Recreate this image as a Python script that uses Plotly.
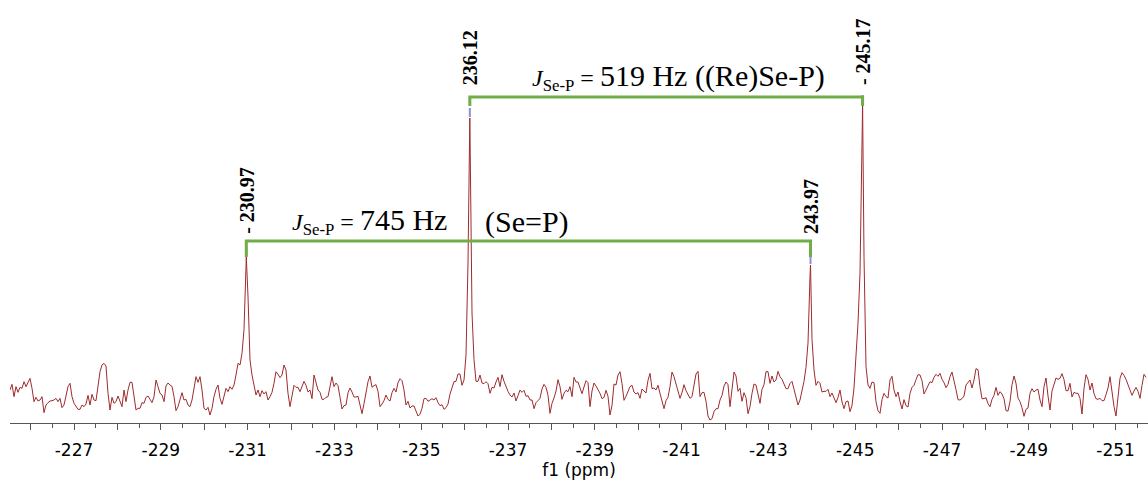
import numpy as np
import plotly.graph_objects as go

# 77Se{1H} spectrum, f1 axis in ppm (uniform digital grid), intensity in arbitrary units
ppm_start = -225.525
ppm_step = 0.046083

# intensities, left to right, in four stretches
intens_a = [99, 116, 79, 109, 92, 107, 104, 124, 109, 122,
            134, 104, 64, 77, 66, 69, 79, 31, 54, 61,
            66, 67, 69, 74, 64, 74, 46, 54, 81, 109,
            119, 79, 59, 51, 41, 41, 54, 49, 57, 83,
            54, 86, 69, 67, 111, 154, 174, 179, 171, 89,
            39, 77, 59, 64, 81, 64, 49, 99, 64, 99,
            122, 122, 84, 39, 44, 44, 61, 59, 77, 81,
            71, 61, 79, 129, 109, 89, 84, 64, 111, 120,
            114, 110, 79, 37, 49, 73, 91, 69, 71, 54,
            49, 69, 109, 139, 122, 139, 99, 44, 39, 47,
            24, 44, 79, 101, 114, 74, 56, 81, 104, 94,
            109, 101, 114, 144, 179, 174, 209, 280, 470, 380,
            189, 144, 114, 84, 99, 79, 97, 87, 94, 69,
            79, 92, 119, 154, 146, 136, 144, 174, 159, 89]
intens_b = [49, 77, 113, 107, 107, 94, 109, 125, 113, 93,
            99, 73, 144, 119, 99, 92, 71, 71, 77, 79,
            109, 139, 109, 120, 112, 74, 42, 52, 54, 91,
            105, 93, 78, 78, 80, 54, 28, 58, 94, 124,
            141, 107, 112, 115, 95, 49, 57, 67, 84, 71,
            66, 91, 104, 93, 121, 133, 127, 99, 54, 65,
            45, 51, 51, 35, 21, 26, 44, 73, 74, 65,
            70, 73, 69, 76, 61, 52, 55, 41, 46, 57,
            87, 107, 124, 125, 147, 147, 113, 129, 204, 480,
            870, 330, 190, 125, 125, 144, 120, 118, 124, 118,
            89, 107, 105, 123, 137, 109, 145, 125, 107, 95,
            84, 78, 90, 66, 82, 99, 92, 98, 80, 82,
            69, 69, 43, 61, 67, 74, 102, 116, 107, 83,
            29, 59, 75, 96, 130, 109, 71, 89, 98, 94]
intens_c = [109, 79, 137, 123, 123, 103, 88, 108, 127, 121,
            49, 96, 120, 111, 101, 89, 73, 77, 98, 80,
            24, 53, 117, 114, 144, 154, 118, 68, 80, 98,
            109, 113, 93, 87, 91, 74, 102, 96, 90, 128,
            149, 103, 105, 99, 113, 89, 69, 43, 67, 77,
            109, 153, 139, 115, 97, 74, 91, 115, 97, 85,
            74, 79, 111, 147, 155, 79, 91, 92, 65, 21,
            9, 13, 34, 43, 43, 69, 83, 111, 123, 115,
            49, 99, 153, 141, 95, 104, 65, 91, 76, 28,
            49, 89, 117, 114, 88, 59, 101, 115, 154, 154,
            119, 141, 123, 129, 155, 139, 131, 115, 103, 103,
            119, 125, 99, 78, 54, 69, 93, 125, 167, 240,
            440, 250, 159, 113, 125, 119, 93, 95, 95, 101,
            79, 90, 76, 61, 77, 99, 63, 43, 64, 66,
            34, 53, 105, 189, 300]
intens_d = [450, 900, 500, 169, 114, 104, 123, 121, 64, 37,
            29, 70, 89, 79, 75, 129, 140, 99, 79, 93,
            64, 42, 70, 52, 48, 89, 107, 113, 130, 145,
            144, 127, 87, 99, 115, 124, 121, 137, 146, 140,
            149, 131, 121, 106, 116, 139, 153, 121, 100, 70,
            69, 73, 81, 114, 120, 129, 105, 129, 163, 160,
            109, 73, 73, 76, 58, 49, 71, 83, 107, 83,
            94, 87, 73, 37, 36, 64, 115, 141, 119, 75,
            64, 46, 20, 41, 45, 89, 103, 93, 99, 101,
            69, 49, 109, 135, 81, 39, 96, 113, 135, 131,
            134, 148, 130, 97, 97, 119, 78, 92, 89, 89,
            74, 27, 104, 145, 131, 99, 120, 88, 73, 71,
            74, 67, 67, 85, 105, 139, 89, 49, 21, 69,
            134, 151, 143, 131, 115, 104, 83, 96, 107, 95,
            74, 113, 146, 137]

# picked peaks
peak_ppm = [-230.97, -236.12, -243.97, -245.17]
peak_height = [498, 915, 474, 954]
peak_label = ['- 230.97', '236.12', '243.97', '- 245.17']

# couplings: (left peak, right peak)
coupling_745 = (-230.97, -243.97)
coupling_519 = (-236.12, -245.17)

label_ticks = list(range(-227, -252, -2))     # labelled, every 2 ppm
label_text = [str(v) for v in label_ticks]   # plain hyphen, as in the original
plain_ticks = list(range(-226, -252, -2))     # unlabelled whole-ppm ticks

intens = np.array(intens_a + intens_b + intens_c + intens_d, dtype=float)
ppm = ppm_start - ppm_step * np.arange(len(intens))
all_ppm = np.concatenate([ppm, peak_ppm])
all_int = np.concatenate([intens, peak_height])
order = np.argsort(-all_ppm)

fig = go.Figure()
fig.add_trace(go.Scatter(x=all_ppm[order], y=all_int[order], mode='lines',
                         line=dict(color='#9e2b2e', width=1), hoverinfo='skip'))

# blue peak-pick marks on top of each peak
for p, h in zip(peak_ppm, peak_height):
    fig.add_shape(type='line', x0=p, x1=p, y0=h + 3, y1=h + 30,
                  line=dict(color='#8f8fd6', width=2))

green = '#70ad47'
def bracket(pair, level, leg):
    a, b = pair
    fig.add_shape(type='path', path=f'M {a},{leg} L {a},{level} L {b},{level} L {b},{leg}',
                  line=dict(color=green, width=3))

bracket(coupling_745, 546, 498)
bracket(coupling_519, 978, 951)

# peak labels, vertical
label_level = [561, 1008, 561, 1008]
for p, lab, lv in zip(peak_ppm, peak_label, label_level):
    fig.add_annotation(x=p, y=lv, text=f'<b>{lab}</b>', textangle=-90, showarrow=False,
                       xanchor='center', yanchor='bottom',
                       font=dict(family='Liberation Serif', size=20, color='black'))

jlabel = '<span style="font-size:24px"><i>J</i><sub>Se-P</sub> = </span>'
serif = dict(family='Liberation Serif', size=30, color='black')
fig.add_annotation(x=coupling_519[0], y=978, xshift=60, text=jlabel + '519 Hz ((Re)Se-P)',
                   showarrow=False, xanchor='left', yanchor='bottom', font=serif)
fig.add_annotation(x=coupling_745[0], y=546, xshift=44, text=jlabel + '745 Hz',
                   showarrow=False, xanchor='left', yanchor='bottom', font=serif)
fig.add_annotation(x=coupling_519[0], y=546, xshift=13, text='(Se=P)',
                   showarrow=False, xanchor='left', yanchor='bottom', font=serif)

xrange_ = [-225.525, -251.746]
fig.update_layout(
    width=1148, height=480,
    margin=dict(l=10, r=0, t=0, b=57),
    plot_bgcolor='white', paper_bgcolor='white',
    showlegend=False,
    xaxis=dict(range=xrange_, tickmode='array', tickvals=label_ticks, ticktext=label_text,
               ticks='outside', ticklen=6, tickcolor='#555',
               showline=True, linecolor='#555', linewidth=1, showgrid=False,
               zeroline=False, ticklabelstandoff=6,
               minor=dict(dtick=0.5, tick0=0, ticks='outside', ticklen=4, tickcolor='#555'),
               tickfont=dict(family='DejaVu Sans', size=17, color='black'),
               title=dict(text='f1 (ppm)', standoff=2,
                          font=dict(family='DejaVu Sans', size=17, color='black'))),
    # second x axis only to draw the unlabelled whole-ppm ticks at full length
    xaxis2=dict(overlaying='x', matches='x', side='bottom', range=xrange_,
                tickmode='array', tickvals=plain_ticks, showticklabels=False,
                ticks='outside', ticklen=6, tickcolor='#555', showgrid=False,
                zeroline=False, showline=False),
    yaxis=dict(range=[0, 1269], visible=False, showgrid=False, zeroline=False),
)
# invisible trace so xaxis2 is drawn
fig.add_trace(go.Scatter(x=[peak_ppm[0]], y=[peak_height[0]], xaxis='x2', mode='lines',
                         line=dict(width=0), hoverinfo='skip', showlegend=False))

# page body has a default margin; drop it so the figure sits at the window's corner
fig.write_html('out.html', config={'displayModeBar': False},
               post_script="document.body.style.margin='0';")
